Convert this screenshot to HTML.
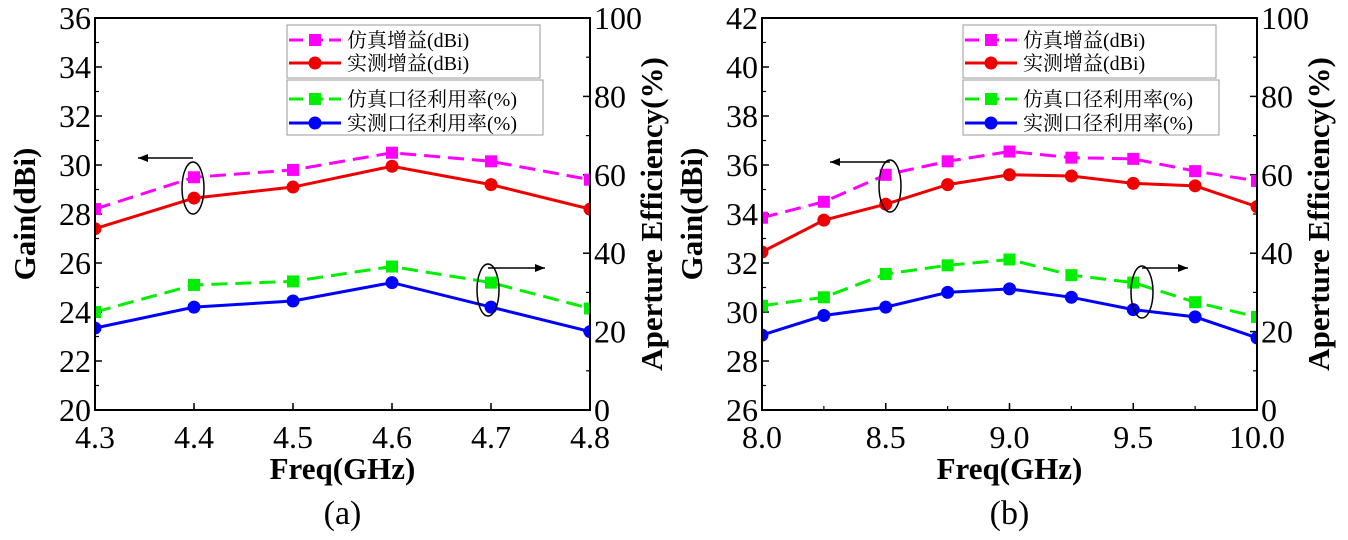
<!DOCTYPE html>
<html><head><meta charset="utf-8"><style>
body{margin:0;background:#fff;width:1348px;height:535px;overflow:hidden}
</style></head><body>
<svg id="s" width="1348" height="535" font-family="'Liberation Serif','Noto Serif CJK SC',serif"></svg>
<script>
const freqA=[4.3,4.4,4.5,4.6,4.7,4.8];
const simGainA=[28.2,29.5,29.8,30.5,30.15,29.4];
const measGainA=[27.4,28.65,29.1,29.95,29.2,28.2];
const simEffA=[25,31.9,32.8,36.6,32.5,25.9];
const measEffA=[20.9,26.25,27.8,32.5,26.25,20];
const xTicksA=["4.3","4.4","4.5","4.6","4.7","4.8"];
const yTicksA=[20,22,24,26,28,30,32,34,36];
const freqB=[8.0,8.25,8.5,8.75,9.0,9.25,9.5,9.75,10.0];
const simGainB=[33.85,34.5,35.6,36.15,36.55,36.3,36.25,35.75,35.35];
const measGainB=[32.45,33.75,34.4,35.2,35.6,35.55,35.25,35.15,34.3];
const simEffB=[26.6,28.75,34.7,36.9,38.4,34.4,32.5,27.5,23.75];
const measEffB=[19.1,24.1,26.25,30,30.9,28.75,25.6,23.75,18.4];
const xTicksB=["8.0","8.5","9.0","9.5","10.0"];
const yTicksB=[26,28,30,32,34,36,38,40,42];
const effTicks=[0,20,40,60,80,100];
const legendLabels=["仿真增益(dBi)","实测增益(dBi)","仿真口径利用率(%)","实测口径利用率(%)"];

const NS="http://www.w3.org/2000/svg";
const svg=document.getElementById('s');
function mk(tag,attrs,parent,txt){const e=document.createElementNS(NS,tag);for(const k in attrs)e.setAttribute(k,attrs[k]);if(txt!==undefined)e.textContent=txt;(parent||svg).appendChild(e);return e;}

function chart(id,L,R,xs,g1,g2,e1,e2,xt,yt,label,leg,ann){
  const T=18,B=410;
  const g=mk('g',{});
  
  
  const xmin=xs[0],xmax=xs[xs.length-1];
  const X=v=>L+(v-xmin)/(xmax-xmin)*(R-L);
  const ymin=yt[0],ymax=yt[yt.length-1];
  const Y=v=>B-(v-ymin)/(ymax-ymin)*(B-T);
  const YE=v=>B-v/100*(B-T);
  yt.forEach((v,i)=>{
    const t=mk('text',{x:L-4,y:Y(v)+11,'text-anchor':'end','font-size':32},g,String(v));
    
    
    mk('line',{x1:L,x2:L+7,y1:Y(v),y2:Y(v),stroke:'#000','stroke-width':1.5},g);
    if(i<yt.length-1)mk('line',{x1:L,x2:L+4,y1:(Y(v)+Y(yt[i+1]))/2,y2:(Y(v)+Y(yt[i+1]))/2,stroke:'#000','stroke-width':1.2},g);
  });
  effTicks.forEach((v,i)=>{
    const t=mk('text',{x:R+4,y:YE(v)+11,'font-size':32},g,String(v));
    
    
    mk('line',{x1:R,x2:R-7,y1:YE(v),y2:YE(v),stroke:'#000','stroke-width':1.5},g);
    if(i<effTicks.length-1)mk('line',{x1:R,x2:R-4,y1:YE(v+10),y2:YE(v+10),stroke:'#000','stroke-width':1.2},g);
  });
  xt.forEach(s=>{
    const v=parseFloat(s);
    const t=mk('text',{x:X(v),y:B+38,'text-anchor':'middle','font-size':32},g,s);
    
    
    mk('line',{x1:X(v),x2:X(v),y1:B,y2:B-7,stroke:'#000','stroke-width':1.5},g);
  });
  xs.forEach(v=>mk('line',{x1:X(v),x2:X(v),y1:B,y2:B-4,stroke:'#000','stroke-width':1.2},g));
  const series=[[g1,Y,'#ff00ff',true,'sim-gain'],[g2,Y,'#ee0000',false,'meas-gain'],[e1,YE,'#00ee00',true,'sim-eff'],[e2,YE,'#0000ff',false,'meas-eff']];
  const cp=mk('clipPath',{id:'cp'+id},g);mk('rect',{x:L,y:T,width:R-L,height:B-T},cp);
  const sg=mk('g',{'clip-path':'url(#cp'+id+')'},g);
  series.forEach(([d,F,c,dash,nm])=>{
    const p=mk('polyline',{points:d.map((v,i)=>X(xs[i])+','+F(v)).join(' '),fill:'none',stroke:c,'stroke-width':3,'stroke-dasharray':dash?'16,8':'none'},sg);
    
    
    d.forEach((v,i)=>{
      const m=dash?mk('rect',{x:X(xs[i])-6,y:F(v)-6,width:12,height:12,fill:c},sg):mk('circle',{cx:X(xs[i]),cy:F(v),r:6.5,fill:c},sg);
      
      
    });
  });
  mk('rect',{x:L,y:T,width:R-L,height:B-T,fill:'none',stroke:'#000','stroke-width':2},g);
  const lx=leg;
  mk('rect',{x:lx,y:25,width:253,height:53,fill:'#fff',stroke:'#999','stroke-width':1},g);
  mk('rect',{x:lx,y:80,width:256,height:55,fill:'#fff',stroke:'#999','stroke-width':1},g);
  const ly=[40,63,99,123];
  series.forEach(([d,F,c,dash],i)=>{
    mk('line',{x1:lx+2,x2:lx+54,y1:ly[i],y2:ly[i],stroke:c,'stroke-width':3,'stroke-dasharray':dash?'14,6':'none'},g);
    if(dash)mk('rect',{x:lx+22,y:ly[i]-6,width:12,height:12,fill:c},g);else mk('circle',{cx:lx+28,cy:ly[i],r:6.5,fill:c},g);
    const t=mk('text',{x:lx+60,y:ly[i]+7,'font-size':20},g,legendLabels[i]);
    
    
  });
  ann.forEach(([cx,cy,ax,ay])=>{
    mk('ellipse',{cx:cx,cy:cy,rx:11,ry:26,fill:'none',stroke:'#000','stroke-width':1.5},g);
    mk('line',{x1:cx,x2:ax,y1:ay,y2:ay,stroke:'#000','stroke-width':1.5},g);
    const dir=ax<cx?1:-1;
    mk('polygon',{points:`${ax},${ay} ${ax+dir*10},${ay-4} ${ax+dir*10},${ay+4}`,fill:'#000'},g);
  });
  const xtT=mk('text',{x:(L+R)/2,y:479,'text-anchor':'middle','font-size':31,'font-weight':'bold'},g,'Freq(GHz)');
  
  const yl=mk('text',{x:0,y:0,'text-anchor':'middle','font-size':31,'font-weight':'bold',transform:`translate(${L-60},214) rotate(-90)`},g,'Gain(dBi)');
  
  const yr=mk('text',{x:0,y:0,'text-anchor':'middle','font-size':31,'font-weight':'bold',transform:`translate(${R+72},214) rotate(-90)`},g,'Aperture Efficiency(%)');
  
  const cap=mk('text',{x:(L+R)/2,y:524,'text-anchor':'middle','font-size':34},g,label);
  
}
chart('a',95,590,freqA,simGainA,measGainA,simEffA,measEffA,xTicksA,yTicksA,'(a)',287,[[193,188,138,158],[488,290,545,268]]);
chart('b',762,1257,freqB,simGainB,measGainB,simEffB,measEffB,xTicksB,yTicksB,'(b)',963,[[890,186,830,162],[1142,292,1188,268]]);
</script>
</body></html>
